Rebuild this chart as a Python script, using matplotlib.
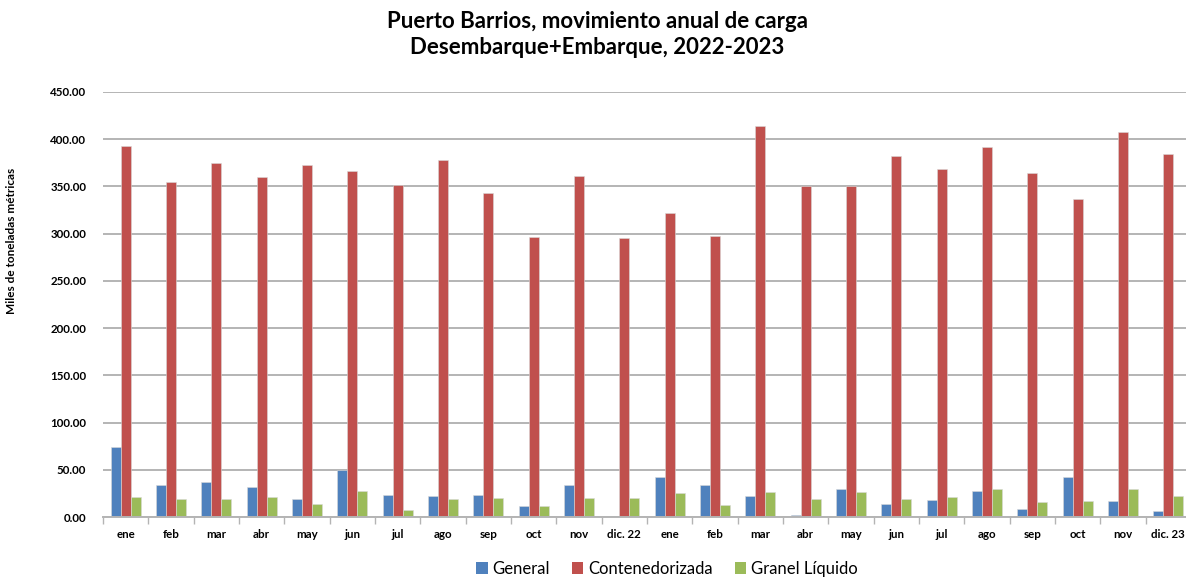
import matplotlib
matplotlib.use("Agg")
import matplotlib.pyplot as plt
import numpy as np
from matplotlib.patches import Patch
from matplotlib.ticker import FixedLocator

# Puerto Barrios, monthly cargo 2022-2023 (miles de toneladas metricas)
MONTHS = ['ene', 'feb', 'mar', 'abr', 'may', 'jun', 'jul', 'ago', 'sep', 'oct', 'nov', 'dic. 22',
          'ene', 'feb', 'mar', 'abr', 'may', 'jun', 'jul', 'ago', 'sep', 'oct', 'nov', 'dic. 23']

GENERAL = [73.9, 33.6, 37.1, 31.4, 18.9, 49.3, 22.9, 22.1, 22.9, 11.4, 34.3, 0.7,
           42.5, 33.6, 22.1, 2.5, 29.6, 13.6, 17.9, 27.5, 8.2, 42.5, 16.8, 6.1]

CONTENEDORIZADA = [393.0, 354.6, 374.6, 360.0, 372.5, 366.5, 351.4, 377.8, 342.6, 297.0, 361.0, 295.8,
                   322.3, 298.0, 413.8, 350.3, 350.7, 382.0, 368.4, 391.5, 363.8, 337.0, 408.0, 384.8]

GRANEL_LIQUIDO = [21.4, 18.6, 18.6, 20.7, 13.6, 27.5, 7.1, 18.9, 20.0, 11.4, 20.0, 20.0,
                  25.4, 12.5, 26.1, 18.9, 26.8, 18.9, 21.4, 29.3, 15.4, 16.8, 29.3, 22.1]

SERIES_NAMES = ['General', 'Contenedorizada', 'Granel Líquido']
COLORS = ['#4F81BD', '#C0504D', '#9BBB59']

Y_TICKS = [0, 50, 100, 150, 200, 250, 300, 350, 400, 450]

FONT = ['Lato', 'DejaVu Sans']


def draw_chart():
    plt.rcParams['font.family'] = FONT
    fig = plt.figure(figsize=(11.86, 5.77), dpi=100)
    # axes placed by hand so the last category runs a little off the right edge
    ax = fig.add_axes([103 / 1186, 1 - 517 / 577, 1088 / 1186, 425 / 577])

    x = np.arange(len(MONTHS))
    width = 0.22
    all_series = [GENERAL, CONTENEDORIZADA, GRANEL_LIQUIDO]
    for k, values in enumerate(all_series):
        ax.bar(x + (k - 1) * width, values, width=width, color=COLORS[k],
               edgecolor='#D9D9D9', linewidth=0.4, zorder=3)

    ax.set_xlim(-0.5, len(MONTHS) - 0.5)
    ax.set_ylim(0, 450)

    # y axis: gridlines only, no spine
    ax.set_yticks(Y_TICKS)
    ax.set_yticklabels(['%.2f' % v for v in Y_TICKS], fontsize=8.3, fontweight='bold')
    ax.tick_params(axis='y', length=0, pad=12)
    ax.grid(axis='y', color='#B4B4B4', linewidth=1.4, zorder=0)

    # x axis: labels in the middle, small tick marks on category boundaries
    ax.set_xticks(x)
    ax.set_xticklabels(MONTHS, fontsize=8.3, fontweight='bold')
    ax.tick_params(axis='x', which='major', length=0, pad=9)
    ax.xaxis.set_minor_locator(FixedLocator(np.arange(-0.5, len(MONTHS), 1.0)))
    ax.tick_params(axis='x', which='minor', length=5, width=1, color='#B4B4B4')

    for side in ['top', 'right', 'left']:
        ax.spines[side].set_visible(False)
    ax.spines['bottom'].set_color('#B4B4B4')
    ax.spines['bottom'].set_linewidth(1.4)
    ax.spines['bottom'].set_zorder(4)

    fig.text(597 / 1186, 1 - 22 / 577, 'Puerto Barrios, movimiento anual de carga',
             ha='center', va='center', fontsize=16, fontweight='bold')
    fig.text(597 / 1186, 1 - 48 / 577, 'Desembarque+Embarque, 2022-2023',
             ha='center', va='center', fontsize=16, fontweight='bold')

    fig.text(12 / 1186, 1 - 241 / 577, 'Miles de toneladas métricas', rotation=90,
             ha='center', va='center', fontsize=8.5, fontweight='bold')

    handles = [Patch(facecolor=c, edgecolor='none') for c in COLORS]
    fig.legend(handles, SERIES_NAMES, loc='center', bbox_to_anchor=(667 / 1186, 1 - 569 / 577),
               ncol=3, frameon=False, fontsize=12, handlelength=0.7, handleheight=0.7,
               handletextpad=0.3, columnspacing=1.3)

    fig.savefig('out.png', dpi=100)
    plt.close(fig)


if __name__ == "__main__":
    draw_chart()
